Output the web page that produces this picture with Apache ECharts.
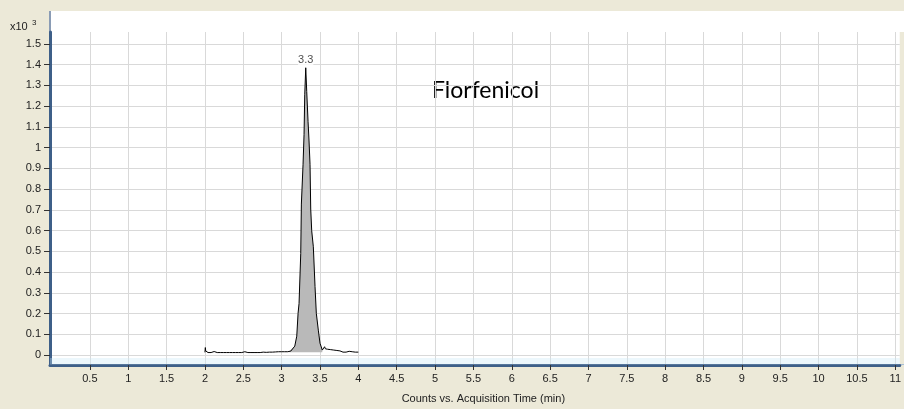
<!DOCTYPE html>
<html>
<head>
<meta charset="utf-8">
<script src="https://cdn.jsdelivr.net/npm/echarts@6/dist/echarts.min.js"></script>
<style>
html, body { margin: 0; padding: 0; background: #ECE9D8; }
#chart { width: 904px; height: 409px; }
</style>
</head>
<body>
<div id="chart"></div>
<script>
// acquisition time (min)
var times = [
    2.00, 2.005, 2.01, 2.02, 2.04, 2.06, 2.08, 2.10, 2.12, 2.14, 2.16, 2.18, 2.20, 2.22, 2.24, 2.26, 2.28,
    2.30, 2.32, 2.34, 2.36, 2.38, 2.40, 2.42, 2.44, 2.46, 2.48, 2.50, 2.52, 2.54, 2.56, 2.58, 2.60, 2.62,
    2.64, 2.66, 2.68, 2.70, 2.72, 2.74, 2.76, 2.78, 2.80, 2.82, 2.84, 2.86, 2.88, 2.90, 2.92, 2.94, 2.96,
    2.98, 3.00, 3.02, 3.04, 3.06, 3.08, 3.10,
    3.119, 3.171, 3.197, 3.214, 3.227, 3.249, 3.257, 3.279, 3.292, 3.301, 3.314, 3.327, 3.344, 3.357,
    3.370, 3.379, 3.392, 3.413, 3.435, 3.452, 3.478, 3.500, 3.530,
    3.54, 3.55, 3.56, 3.57, 3.58, 3.60, 3.62, 3.64, 3.66, 3.68, 3.70, 3.72, 3.74, 3.76, 3.78, 3.80, 3.82,
    3.84, 3.86, 3.88, 3.90, 3.92, 3.94, 3.96, 3.98, 4.00
];
// counts (x10^3)
var counts = [
    0.013, 0.036, 0.020, 0.012, 0.012, 0.016, 0.012, 0.012, 0.017, 0.012, 0.012, 0.012, 0.012, 0.012, 0.012, 0.012, 0.012,
    0.016, 0.012, 0.012, 0.012, 0.016, 0.012, 0.016, 0.012, 0.015, 0.012, 0.012, 0.016, 0.012, 0.012, 0.012, 0.012, 0.012,
    0.012, 0.012, 0.012, 0.014, 0.012, 0.015, 0.014, 0.016, 0.013, 0.016, 0.014, 0.012, 0.014, 0.012, 0.015, 0.014, 0.016,
    0.014, 0.016, 0.014, 0.016, 0.015, 0.016, 0.018,
    0.019, 0.043, 0.091, 0.201, 0.249, 0.489, 0.728, 0.920, 1.064, 1.255, 1.385, 1.271, 1.127, 1.032,
    0.920, 0.704, 0.599, 0.522, 0.331, 0.201, 0.120, 0.057, 0.024,
    0.030, 0.026, 0.040, 0.030, 0.024, 0.028, 0.022, 0.026, 0.020, 0.024, 0.018, 0.022, 0.016, 0.020, 0.016, 0.014, 0.020,
    0.014, 0.022, 0.018, 0.020, 0.016, 0.022, 0.014, 0.014, 0.014
];
var peakStart = 3.10;
var peakEnd = 3.53;
var peakLabel = '3.3';
var xTicks = [0.5, 1, 1.5, 2, 2.5, 3, 3.5, 4, 4.5, 5, 5.5, 6, 6.5, 7, 7.5, 8, 8.5, 9, 9.5, 10, 10.5, 11];
var yTicks = [0, 0.1, 0.2, 0.3, 0.4, 0.5, 0.6, 0.7, 0.8, 0.9, 1, 1.1, 1.2, 1.3, 1.4, 1.5];

var trace = times.map(function (t, i) { return [t, counts[i]]; });
var peak = trace.filter(function (p) { return p[0] >= peakStart && p[0] <= peakEnd; });
var apex = peak.reduce(function (a, b) { return b[1] > a[1] ? b : a; });

var labelFont = { fontFamily: 'Liberation Sans', fontSize: 11, color: '#222' };

var option = {
    backgroundColor: '#ECE9D8',
    animation: false,
    grid: {
        show: true,
        left: 50,
        right: 1,
        top: 32,
        bottom: 42,
        backgroundColor: '#ffffff',
        borderWidth: 0
    },
    graphic: [
        { type: 'rect', shape: { x: 50, y: 11, width: 854, height: 21 }, style: { fill: '#ffffff' }, z: -1 },
        { type: 'line', shape: { x1: 50, y1: 11, x2: 50, y2: 33 }, style: { stroke: '#8a9cb5', lineWidth: 2 } },
        { type: 'line', shape: { x1: 52, y1: 364.5, x2: 904, y2: 364.5 }, style: { stroke: '#a9bfd6', lineWidth: 1 } },
        { type: 'text', style: { text: 'x10', x: 10, y: 27, font: '11px "Liberation Sans"', fill: '#222', verticalAlign: 'middle' } },
        { type: 'text', style: { text: '3', x: 32, y: 23, font: '8px "Liberation Sans"', fill: '#222', verticalAlign: 'middle' } },
        { type: 'text', style: { text: 'Florfenicol', x: 432, y: 91, font: '23px Lato', fill: '#000', verticalAlign: 'middle' } }
    ],
    xAxis: {
        type: 'value',
        min: -0.02,
        max: 11.058,
        name: 'Counts vs. Acquisition Time (min)',
        nameLocation: 'middle',
        nameGap: 28,
        nameTextStyle: { fontFamily: 'Liberation Sans', fontSize: 11, color: '#222', padding: [0, 0, 0, 17] },
        axisLine: { show: true, onZero: false, lineStyle: { color: '#3e5f88', width: 3 } },
        axisTick: { show: true, length: 5, lineStyle: { color: '#333' }, customValues: xTicks },
        axisLabel: Object.assign({ margin: 8, customValues: xTicks, formatter: function (v) { return String(v); } }, labelFont),
        splitLine: { show: true, lineStyle: { color: '#d9d9d9', width: 1 } }
    },
    yAxis: {
        type: 'value',
        min: -0.048,
        max: 1.5575,
        axisLine: { show: true, onZero: false, lineStyle: { color: '#3e5f88', width: 3 } },
        axisTick: { show: true, length: 6, lineStyle: { color: '#333' }, customValues: yTicks },
        axisLabel: Object.assign({ margin: 9, customValues: yTicks, formatter: function (v) { return String(v); } }, labelFont),
        splitLine: { show: true, lineStyle: { color: '#d9d9d9', width: 1 } }
    },
    series: [
        {
            type: 'line',
            data: peak,
            showSymbol: false,
            lineStyle: { width: 0 },
            areaStyle: { color: '#b9b9b9', opacity: 1, origin: 0.013 },
            z: 2,
            silent: true
        },
        {
            type: 'line',
            data: trace,
            showSymbol: false,
            lineStyle: { color: '#000000', width: 1 },
            z: 3,
            markArea: {
                silent: true,
                itemStyle: { color: 'rgba(200,232,245,0.35)' },
                data: [[{ yAxis: -0.045 }, { yAxis: -0.014 }]]
            }
        },
        {
            type: 'scatter',
            data: [apex],
            symbolSize: 1,
            itemStyle: { color: 'rgba(0,0,0,0)' },
            label: {
                show: true,
                position: 'top',
                distance: 2,
                formatter: peakLabel,
                fontFamily: 'Liberation Sans',
                fontSize: 11,
                color: '#222',
                backgroundColor: '#ffffff'
            },
            z: 4
        }
    ]
};

var chart = echarts.init(document.getElementById('chart'));
chart.setOption(option);
</script>
</body>
</html>
